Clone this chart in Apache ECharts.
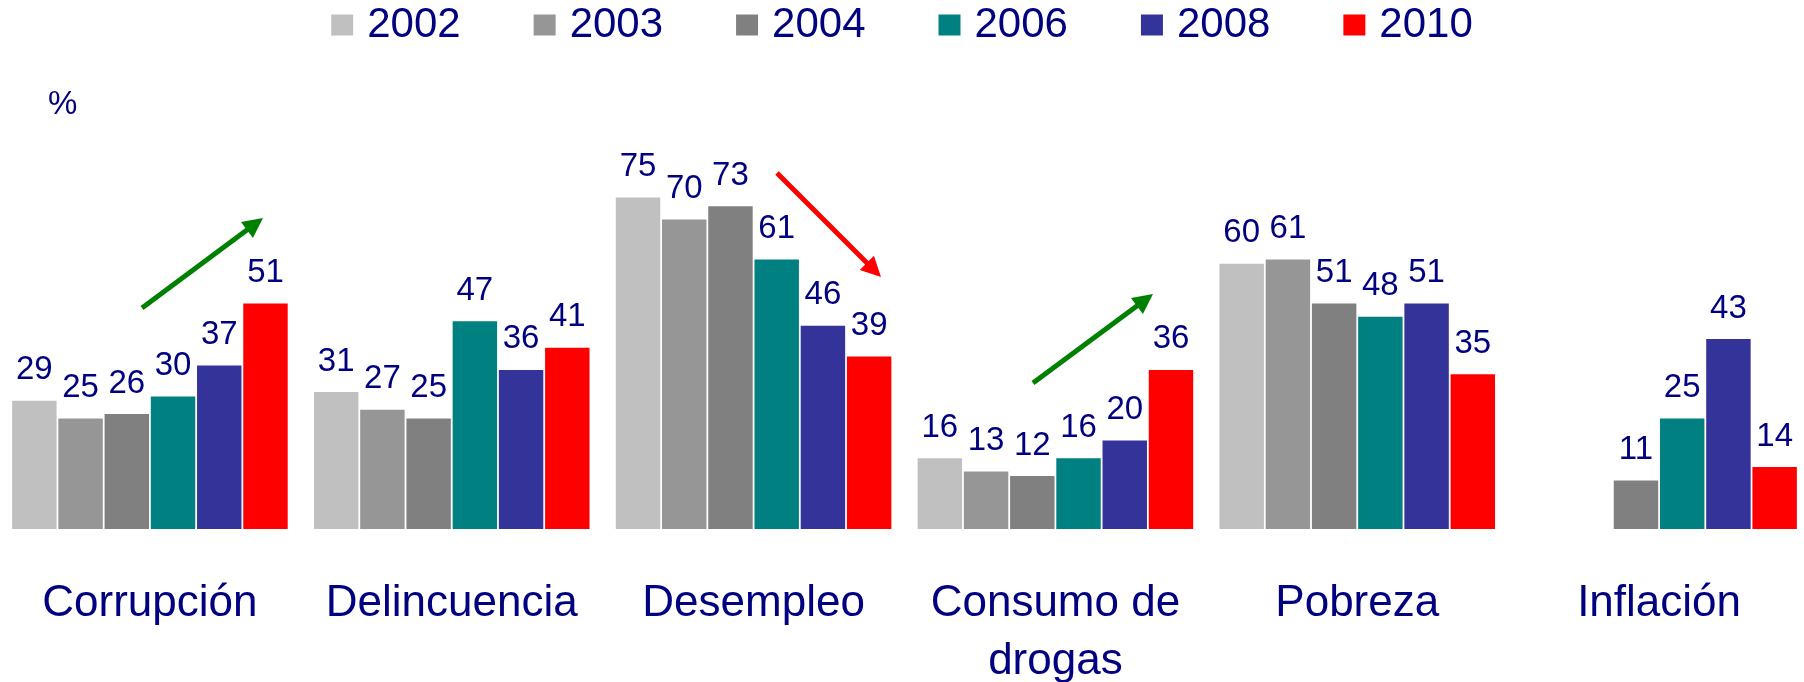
<!DOCTYPE html>
<html>
<head>
<meta charset="utf-8">
<script src="https://cdn.jsdelivr.net/npm/echarts@6/dist/echarts.min.js"></script>
<style>
html,body{margin:0;padding:0;background:#fff;}
#chart{width:1804px;height:682px;}
</style>
</head>
<body>
<div id="chart"></div>
<script>
const categories = ['Corrupción', 'Delincuencia', 'Desempleo', 'Consumo de\ndrogas', 'Pobreza', 'Inflación'];
const years = ['2002', '2003', '2004', '2006', '2008', '2010'];
const v2002 = [29, 31, 75, 16, 60, null];
const v2003 = [25, 27, 70, 13, 61, null];
const v2004 = [26, 25, 73, 12, 51, 11];
const v2006 = [30, 47, 61, 16, 48, 25];
const v2008 = [37, 36, 46, 20, 51, 43];
const v2010 = [51, 41, 39, 36, 35, 14];
const seriesValues = [v2002, v2003, v2004, v2006, v2008, v2010];
const colors = ['#C0C0C0', '#969696', '#808080', '#008080', '#333399', '#FF0000'];

const FONT = "'Liberation Sans', Arial, sans-serif";
const NAVY = '#000080';

// annotation arrows (pixel positions of decorative trend arrows)
const arrows = [
  {from: [142, 308], to: [263, 218], color: '#008000'},
  {from: [777, 173], to: [881, 277], color: '#FF0000'},
  {from: [1033, 383], to: [1153, 294], color: '#008000'}
];

function arrowGraphic(a) {
  const [x1, y1] = a.from, [x2, y2] = a.to;
  const dx = x2 - x1, dy = y2 - y1, len = Math.hypot(dx, dy);
  const ux = dx / len, uy = dy / len, px = -uy, py = ux;
  const hl = 20, hw = 10;
  const bx = x2 - ux * hl, by = y2 - uy * hl;
  return [
    {type: 'line', shape: {x1: x1, y1: y1, x2: bx + ux * 2, y2: by + uy * 2},
     style: {stroke: a.color, lineWidth: 5}},
    {type: 'polygon', shape: {points: [[x2, y2], [bx + px * hw, by + py * hw], [bx - px * hw, by - py * hw]]},
     style: {fill: a.color}}
  ];
}

const chart = echarts.init(document.getElementById('chart'));
const graphics = [{
  type: 'text', left: 48, top: 88,
  style: {text: '%', fill: NAVY, font: "33px 'Liberation Sans', Arial, sans-serif"}
}];
arrows.forEach(a => arrowGraphic(a).forEach(g => graphics.push(g)));

chart.setOption({
  animation: false,
  backgroundColor: '#fff',
  legend: {
    data: years,
    left: 'center', top: 3,
    icon: 'rect',
    itemWidth: 22, itemHeight: 21, itemGap: 73,
    padding: 0,
    textStyle: {fontSize: 42, color: NAVY, fontFamily: FONT, lineHeight: 44, padding: [0, 0, 0, 9]}
  },
  grid: {left: -1, right: -6, top: 87, bottom: 153, outerBoundsMode: 'none', containLabel: false},
  xAxis: {
    type: 'category', data: categories,
    axisLine: {show: false}, axisTick: {show: false},
    axisLabel: {fontSize: 44, lineHeight: 58, color: NAVY, fontFamily: FONT, margin: 46, interval: 0}
  },
  yAxis: {type: 'value', min: 0, max: 100, show: false, splitLine: {show: false}},
  series: years.map((y, i) => ({
    name: y, type: 'bar', data: seriesValues[i],
    barGap: '4%', barCategoryGap: '8.7%',
    itemStyle: {color: colors[i]},
    label: {show: true, position: 'top', distance: 14, fontSize: 33, color: NAVY, fontFamily: FONT}
  })),
  graphic: graphics
});
</script>
</body>
</html>
